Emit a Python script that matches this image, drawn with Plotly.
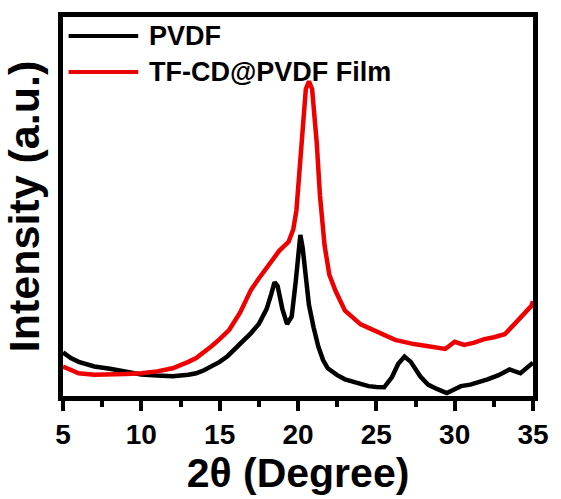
import plotly.graph_objects as go

# --- data ---
pvdf_x = [5, 5.5, 6, 6.5, 7, 8, 9, 10, 11, 12, 13, 13.5, 14, 14.5, 15, 15.5, 16, 16.5, 17, 17.5,
          18, 18.3, 18.5, 18.7, 19, 19.3, 19.6, 19.85, 20.05, 20.15, 20.3, 20.5, 20.7, 21, 21.3,
          21.6, 21.9, 22.5, 23, 24, 24.5, 25, 25.5, 26, 26.4, 26.8, 27.2, 27.8, 28.3, 28.9, 29.5,
          30, 30.4, 31, 31.5, 32.1, 32.8, 33.5, 34.2, 34.6, 35]
pvdf_y = [11.5, 10, 9, 8.5, 7.8, 7.2, 6.3, 5.7, 5.4, 5.2, 5.6, 6, 6.8, 7.8, 9, 10.5, 12.4, 14.3, 16.6, 19,
          23, 27, 30, 29, 23, 19, 21, 30, 40, 42.5, 39, 31, 24, 18, 13,
          9.5, 7.3, 5.5, 4.4, 3.2, 2.6, 2.4, 2.3, 5, 8.5, 10.4, 9, 5.2, 3, 1.8, 0.8,
          1.8, 2.6, 3, 3.6, 4.4, 5.5, 7, 6, 7.5, 8.8]

film_x = [5, 5.5, 6, 7, 8, 9, 10, 11, 12, 12.5, 13, 13.5, 14, 14.5, 15, 15.6, 16.3, 17, 17.5, 18,
          18.5, 18.8, 19.4, 19.7, 19.9, 20.1, 20.3, 20.5, 20.7, 20.9, 21.2, 21.4, 21.7, 22, 22.4,
          23, 24, 25, 26.2, 27.4, 28.3, 29.4, 30, 30.6, 31.2, 31.9, 32.5, 33.2, 33.8, 34.4, 34.9, 35]
film_y = [7.8, 6.8, 6, 5.6, 5.6, 5.8, 6, 6.5, 7.3, 8, 9, 10, 11.5, 13.2, 15, 17.4, 22, 28, 31, 34,
          37, 38.3, 40.7, 44, 49, 60, 72, 81, 83, 81, 66.6, 53, 39.6, 32, 27.7,
          22.5, 18.9, 17, 14.8, 13.7, 13, 12.4, 14.3, 13.5, 14, 15, 15.5, 16.3, 18.9, 21.5, 23.8, 25]

series_names = ["PVDF", "TF-CD@PVDF Film"]
series_colors = ["#000000", "#ee0000"]

x_ticks = [5, 10, 15, 20, 25, 30, 35]

FONT = "Arial, Liberation Sans, sans-serif"

fig = go.Figure()
fig.add_trace(go.Scatter(x=pvdf_x, y=pvdf_y, mode="lines", name=series_names[0],
                         line=dict(color=series_colors[0], width=4.5), showlegend=False))
fig.add_trace(go.Scatter(x=film_x, y=film_y, mode="lines", name=series_names[1],
                         line=dict(color=series_colors[1], width=4.5), showlegend=False))

# manual legend (long line samples as in the reference)
leg_y = [0.95, 0.855]
for i, (nm, col) in enumerate(zip(series_names, series_colors)):
    fig.add_shape(type="line", xref="paper", yref="paper",
                  x0=0.012, x1=0.16, y0=leg_y[i], y1=leg_y[i],
                  line=dict(color=col, width=4))
    fig.add_annotation(xref="paper", yref="paper", x=0.178, y=leg_y[i],
                       xanchor="left", yanchor="middle", showarrow=False,
                       text=f"<b>{nm}</b>", font=dict(family=FONT, size=27, color="black"))

fig.update_layout(
    width=561, height=499,
    margin=dict(l=63, r=25, t=14, b=99),
    paper_bgcolor="white", plot_bgcolor="white",
    font=dict(family=FONT, color="black"),
)
fig.update_xaxes(
    range=[5, 35], tickvals=x_ticks, ticktext=[f"<b>{v}</b>" for v in x_ticks],
    tickfont=dict(family=FONT, size=28, color="black"),
    ticks="outside", ticklen=10, tickwidth=3.5, tickcolor="black",
    minor=dict(dtick=2.5, ticks="outside", ticklen=6, tickwidth=3.5, tickcolor="black", showgrid=False),
    showline=True, linewidth=4.5, linecolor="black", mirror=True,
    showgrid=False, zeroline=False,
    title=dict(text="<b>2θ (Degree)</b>", font=dict(family=FONT, size=41, color="black"), standoff=8),
)
fig.update_yaxes(
    range=[0, 100], showticklabels=False, ticks="",
    showline=True, linewidth=4.5, linecolor="black", mirror=True,
    showgrid=False, zeroline=False,
    title=dict(text="<b>Intensity (a.u.)</b>", font=dict(family=FONT, size=43, color="black"), standoff=8),
)

fig.write_html("out.html")
